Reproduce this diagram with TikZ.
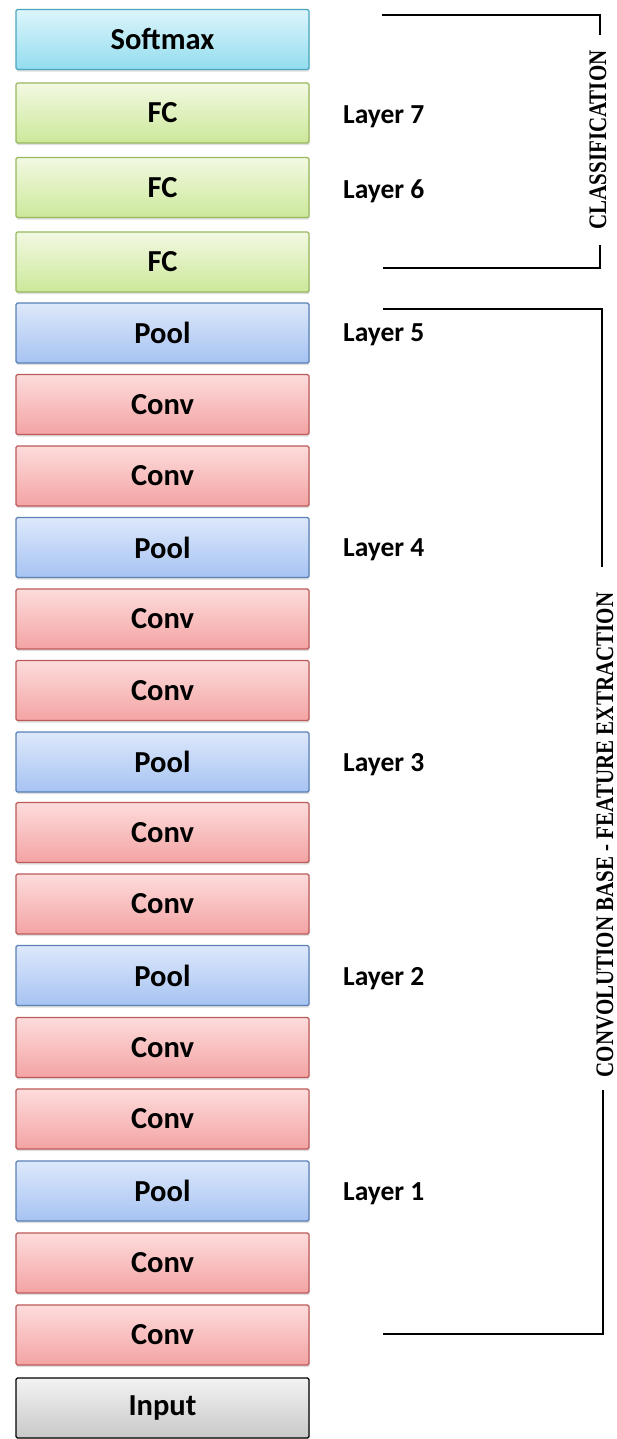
\documentclass[tikz,border=0pt]{standalone}
\usepackage{fontspec}
\setmainfont{Carlito}
\newfontfamily\timesbold{Liberation Serif Bold}
\usetikzlibrary{shadows}
\definecolor{smxtop}{HTML}{DCF5FB}
\definecolor{smxbot}{HTML}{93DDEF}
\definecolor{smxdraw}{HTML}{4AA6BF}
\definecolor{fctop}{HTML}{F2F9E2}
\definecolor{fcbot}{HTML}{CCE89A}
\definecolor{fcdraw}{HTML}{98B85E}
\definecolor{pooltop}{HTML}{DDE8FB}
\definecolor{poolbot}{HTML}{A6C3F2}
\definecolor{pooldraw}{HTML}{5A80B6}
\definecolor{convtop}{HTML}{FDDCDC}
\definecolor{convbot}{HTML}{F4A3A3}
\definecolor{convdraw}{HTML}{BC5A5A}
\definecolor{intop}{HTML}{F3F3F3}
\definecolor{inbot}{HTML}{C8C8C8}
\begin{document}
\begin{tikzpicture}[x=1pt,y=-1pt,
  layerbox/.style={rectangle, rounded corners=1.5pt, line width=1.2pt,
    minimum width=293pt, minimum height=60pt, inner sep=0pt,
    font=\fontsize{30.5}{32}\selectfont\bfseries,
    drop shadow={shadow xshift=0.6pt, shadow yshift=-2.2pt, opacity=0.25}},
  smx/.style={layerbox, draw=smxdraw, top color=smxtop, bottom color=smxbot},
  fcb/.style={layerbox, draw=fcdraw, top color=fctop, bottom color=fcbot},
  poolb/.style={layerbox, draw=pooldraw, top color=pooltop, bottom color=poolbot},
  convb/.style={layerbox, draw=convdraw, top color=convtop, bottom color=convbot},
  inb/.style={layerbox, draw=black, top color=intop, bottom color=inbot},
  lbl/.style={anchor=west, inner sep=0pt, font=\fontsize{27.5}{29}\selectfont\bfseries},
  brk/.style={line width=2.8pt, line cap=butt},
  vtext/.style={rotate=90, inner sep=0pt, font=\fontsize{21}{22}\selectfont\timesbold}
]
\useasboundingbox (0,0) rectangle (616,1439);
\fill[white] (0,0) rectangle (616,1439);

\node[smx]   (b0)  at (162.5, 39.5)  {Softmax};
\node[fcb]   (b1)  at (162.5, 113)   {FC};
\node[fcb]   (b2)  at (162.5, 187.5) {FC};
\node[fcb]   (b3)  at (162.5, 262)   {FC};
\node[poolb] (b4)  at (162.5, 333)   {Pool};
\node[convb] (b5)  at (162.5, 404.5) {Conv};
\node[convb] (b6)  at (162.5, 476)   {Conv};
\node[poolb] (b7)  at (162.5, 547.5) {Pool};
\node[convb] (b8)  at (162.5, 619)   {Conv};
\node[convb] (b9)  at (162.5, 690.5) {Conv};
\node[poolb] (b10) at (162.5, 762)   {Pool};
\node[convb] (b11) at (162.5, 832.5) {Conv};
\node[convb] (b12) at (162.5, 904)   {Conv};
\node[poolb] (b13) at (162.5, 975.5) {Pool};
\node[convb] (b14) at (162.5, 1047.5){Conv};
\node[convb] (b15) at (162.5, 1119)  {Conv};
\node[poolb] (b16) at (162.5, 1191)  {Pool};
\node[convb] (b17) at (162.5, 1263)  {Conv};
\node[convb] (b18) at (162.5, 1335)  {Conv};
\node[inb]   (b19) at (162.5, 1408)  {Input};

\node[lbl] (l7) at (343, 117)  {Layer 7};
\node[lbl] (l6) at (343, 191)  {Layer 6};
\node[lbl] (l5) at (343, 335)  {Layer 5};
\node[lbl] (l4) at (343, 550)  {Layer 4};
\node[lbl] (l3) at (343, 765)  {Layer 3};
\node[lbl] (l2) at (343, 979)  {Layer 2};
\node[lbl] (l1) at (343, 1194) {Layer 1};

% classification bracket
\coordinate (ct1) at (382,15);
\coordinate (ct2) at (600,15);
\coordinate (ct3) at (600,35);
\coordinate (cb1) at (383,268);
\coordinate (cb2) at (600,268);
\coordinate (cb3) at (600,245);
\node[vtext] (ctext) at (598,140) {\scalebox{1}[1.2]{CLASSIFICATION}};
\draw[brk] (ct1) -- (ct2) -- (ct3);
\draw[brk] (cb1) -- (cb2) -- (cb3);

% feature extraction bracket
\coordinate (ft1) at (383,309);
\coordinate (ft2) at (602,309);
\coordinate (ft3) at (602,567);
\coordinate (fb1) at (383,1334);
\coordinate (fb2) at (603,1334);
\coordinate (fb3) at (603,1090);
\node[vtext] (ftext) at (605,835) {\scalebox{1}[1.2]{CONVOLUTION BASE - FEATURE EXTRACTION}};
\draw[brk] (ft1) -- (ft2) -- (ft3);
\draw[brk] (fb1) -- (fb2) -- (fb3);
\end{tikzpicture}
\end{document}
